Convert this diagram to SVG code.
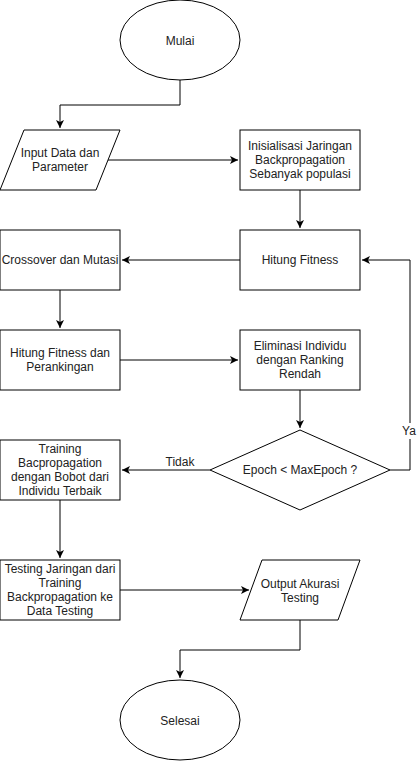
<svg xmlns="http://www.w3.org/2000/svg" width="420" height="761" viewBox="0 0 420 761">
<style>
.s{fill:#fff;stroke:#000;stroke-width:1}
.t{font-family:"Liberation Sans",Arial,sans-serif;font-size:12px;fill:#222;text-anchor:middle;dominant-baseline:central}
.c{fill:none;stroke:#000;stroke-width:1}
</style>
<defs>
<marker id="a" markerWidth="10" markerHeight="10" refX="8" refY="4" orient="auto" markerUnits="userSpaceOnUse">
<path d="M0,0 L8,4 L0,8 L2,4 Z" fill="#000"/>
</marker>
</defs>
<rect width="420" height="761" fill="#fff"/>
<g id="connectors">
<path class="c" d="M180,80 V105 H60 V128" marker-end="url(#a)"/>
<path class="c" d="M108,160 H238" marker-end="url(#a)"/>
<path class="c" d="M300,190 V228" marker-end="url(#a)"/>
<path class="c" d="M240,260 H122" marker-end="url(#a)"/>
<path class="c" d="M60,290 V328" marker-end="url(#a)"/>
<path class="c" d="M120,360 H238" marker-end="url(#a)"/>
<path class="c" d="M300,390 V428" marker-end="url(#a)"/>
<path class="c" d="M390,470 H410 V260 H362" marker-end="url(#a)"/>
<path class="c" d="M210,470 H122" marker-end="url(#a)"/>
<path class="c" d="M60,500 V558" marker-end="url(#a)"/>
<path class="c" d="M120,590 H249" marker-end="url(#a)"/>
<path class="c" d="M300,620 V650 H180 V678" marker-end="url(#a)"/>
<rect x="402" y="423" width="14" height="16" fill="#fff"/>
<text class="t" x="409" y="431">Ya</text>
<text class="t" x="180" y="462">Tidak</text>
</g>
<g id="mulai">
<ellipse class="s" cx="180" cy="40" rx="60" ry="40"/>
<text class="t" x="180" y="41">Mulai</text>
</g>
<g id="input">
<polygon class="s" points="24,130 120,130 96,190 0,190"/>
<text class="t" x="60" y="153">Input Data dan</text>
<text class="t" x="60" y="167">Parameter</text>
</g>
<g id="inisialisasi">
<rect class="s" x="240" y="130" width="120" height="60"/>
<text class="t" x="300" y="146">Inisialisasi Jaringan</text>
<text class="t" x="300" y="160">Backpropagation</text>
<text class="t" x="300" y="174">Sebanyak populasi</text>
</g>
<g id="hitung-fitness">
<rect class="s" x="240" y="230" width="120" height="60"/>
<text class="t" x="300" y="260">Hitung Fitness</text>
</g>
<g id="crossover">
<rect class="s" x="0" y="230" width="120" height="60"/>
<text class="t" x="60" y="260">Crossover dan Mutasi</text>
</g>
<g id="hitung-ranking">
<rect class="s" x="0" y="330" width="120" height="60"/>
<text class="t" x="60" y="353">Hitung Fitness dan</text>
<text class="t" x="60" y="367">Perankingan</text>
</g>
<g id="eliminasi">
<rect class="s" x="240" y="330" width="120" height="60"/>
<text class="t" x="300" y="346">Eliminasi Individu</text>
<text class="t" x="300" y="360">dengan Ranking</text>
<text class="t" x="300" y="374">Rendah</text>
</g>
<g id="decision">
<polygon class="s" points="300,430 390,470 300,510 210,470"/>
<text class="t" x="300" y="470">Epoch &lt; MaxEpoch ?</text>
</g>
<g id="training">
<rect class="s" x="0" y="440" width="120" height="60"/>
<text class="t" x="60" y="449">Training</text>
<text class="t" x="60" y="463">Bacpropagation</text>
<text class="t" x="60" y="477">dengan Bobot dari</text>
<text class="t" x="60" y="491">Individu Terbaik</text>
</g>
<g id="testing">
<rect class="s" x="0" y="560" width="120" height="60"/>
<text class="t" x="60" y="569">Testing Jaringan dari</text>
<text class="t" x="60" y="583">Training</text>
<text class="t" x="60" y="597">Backpropagation ke</text>
<text class="t" x="60" y="611">Data Testing</text>
</g>
<g id="output">
<polygon class="s" points="262,560 360,560 338,620 240,620"/>
<text class="t" x="300" y="584">Output Akurasi</text>
<text class="t" x="300" y="598">Testing</text>
</g>
<g id="selesai">
<ellipse class="s" cx="180" cy="720" rx="60" ry="40"/>
<text class="t" x="180" y="721">Selesai</text>
</g>
</svg>
